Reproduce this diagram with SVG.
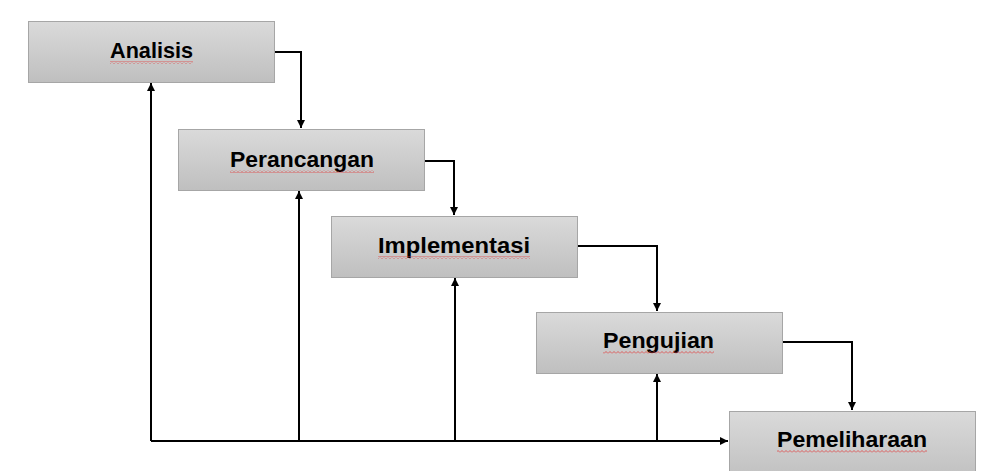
<svg xmlns="http://www.w3.org/2000/svg" width="981" height="471" viewBox="0 0 981 471">
<defs>
<linearGradient id="g" x1="0" y1="0" x2="0" y2="1">
<stop offset="0" stop-color="#dadada"/>
<stop offset="1" stop-color="#bfbfbf"/>
</linearGradient>
<pattern id="sq" width="4" height="3" patternUnits="userSpaceOnUse">
<path d="M0,2.5 L2,0.5 L4,2.5" fill="none" stroke="#e04040" stroke-width="0.8"/>
</pattern>
<marker id="ah" viewBox="0 0 10 10" refX="10" refY="5" markerWidth="4" markerHeight="4" orient="auto" markerUnits="strokeWidth">
<path d="M0,0 L10,5 L0,10 z" fill="#000"/>
</marker>
<style>
.box{fill:url(#g);stroke:#a6a6a6;stroke-width:1}
.lbl{font-family:"Liberation Sans",Arial,sans-serif;font-weight:bold;font-size:22px;fill:#000}
.sq{fill:url(#sq)}
.c{fill:none;stroke:#000;stroke-width:2}
.ca{fill:none;stroke:#000;stroke-width:2;marker-end:url(#ah)}
</style>
</defs>
<rect width="981" height="471" fill="#fff"/>
<g id="analisis">
<rect class="box" x="28.5" y="21.5" width="246" height="61"/>
<text class="lbl" x="110" y="58" textLength="83" lengthAdjust="spacingAndGlyphs">Analisis</text>
<rect class="sq" x="110" y="61" width="83" height="3"/>
</g>
<g id="perancangan">
<rect class="box" x="178.5" y="129.5" width="246" height="61"/>
<text class="lbl" x="230" y="167" textLength="144" lengthAdjust="spacingAndGlyphs">Perancangan</text>
<rect class="sq" x="230" y="170" width="144" height="3"/>
</g>
<g id="implementasi">
<rect class="box" x="331.5" y="216.5" width="246" height="61"/>
<text class="lbl" x="378" y="253" textLength="152" lengthAdjust="spacingAndGlyphs">Implementasi</text>
<rect class="sq" x="378" y="256" width="152" height="3"/>
</g>
<g id="pengujian">
<rect class="box" x="536.5" y="312.5" width="246" height="61"/>
<text class="lbl" x="603" y="348" textLength="111" lengthAdjust="spacingAndGlyphs">Pengujian</text>
<rect class="sq" x="603" y="351" width="111" height="3"/>
</g>
<g id="pemeliharaan">
<rect class="box" x="729.5" y="411.5" width="246" height="70"/>
<text class="lbl" x="777" y="447" textLength="150" lengthAdjust="spacingAndGlyphs">Pemeliharaan</text>
<rect class="sq" x="777" y="450" width="150" height="3"/>
</g>
<g id="connectors">
<path class="ca" d="M275,52 H301 V128"/>
<path class="ca" d="M425,161 H454 V215"/>
<path class="ca" d="M578,246 H657 V311"/>
<path class="ca" d="M783,342 H852 V410"/>
<path class="ca" d="M151,441 H728"/>
<path class="ca" d="M151,441 V83"/>
<path class="ca" d="M299,441 V191"/>
<path class="ca" d="M455,441 V278"/>
<path class="ca" d="M657,441 V374"/>
</g>
</svg>
